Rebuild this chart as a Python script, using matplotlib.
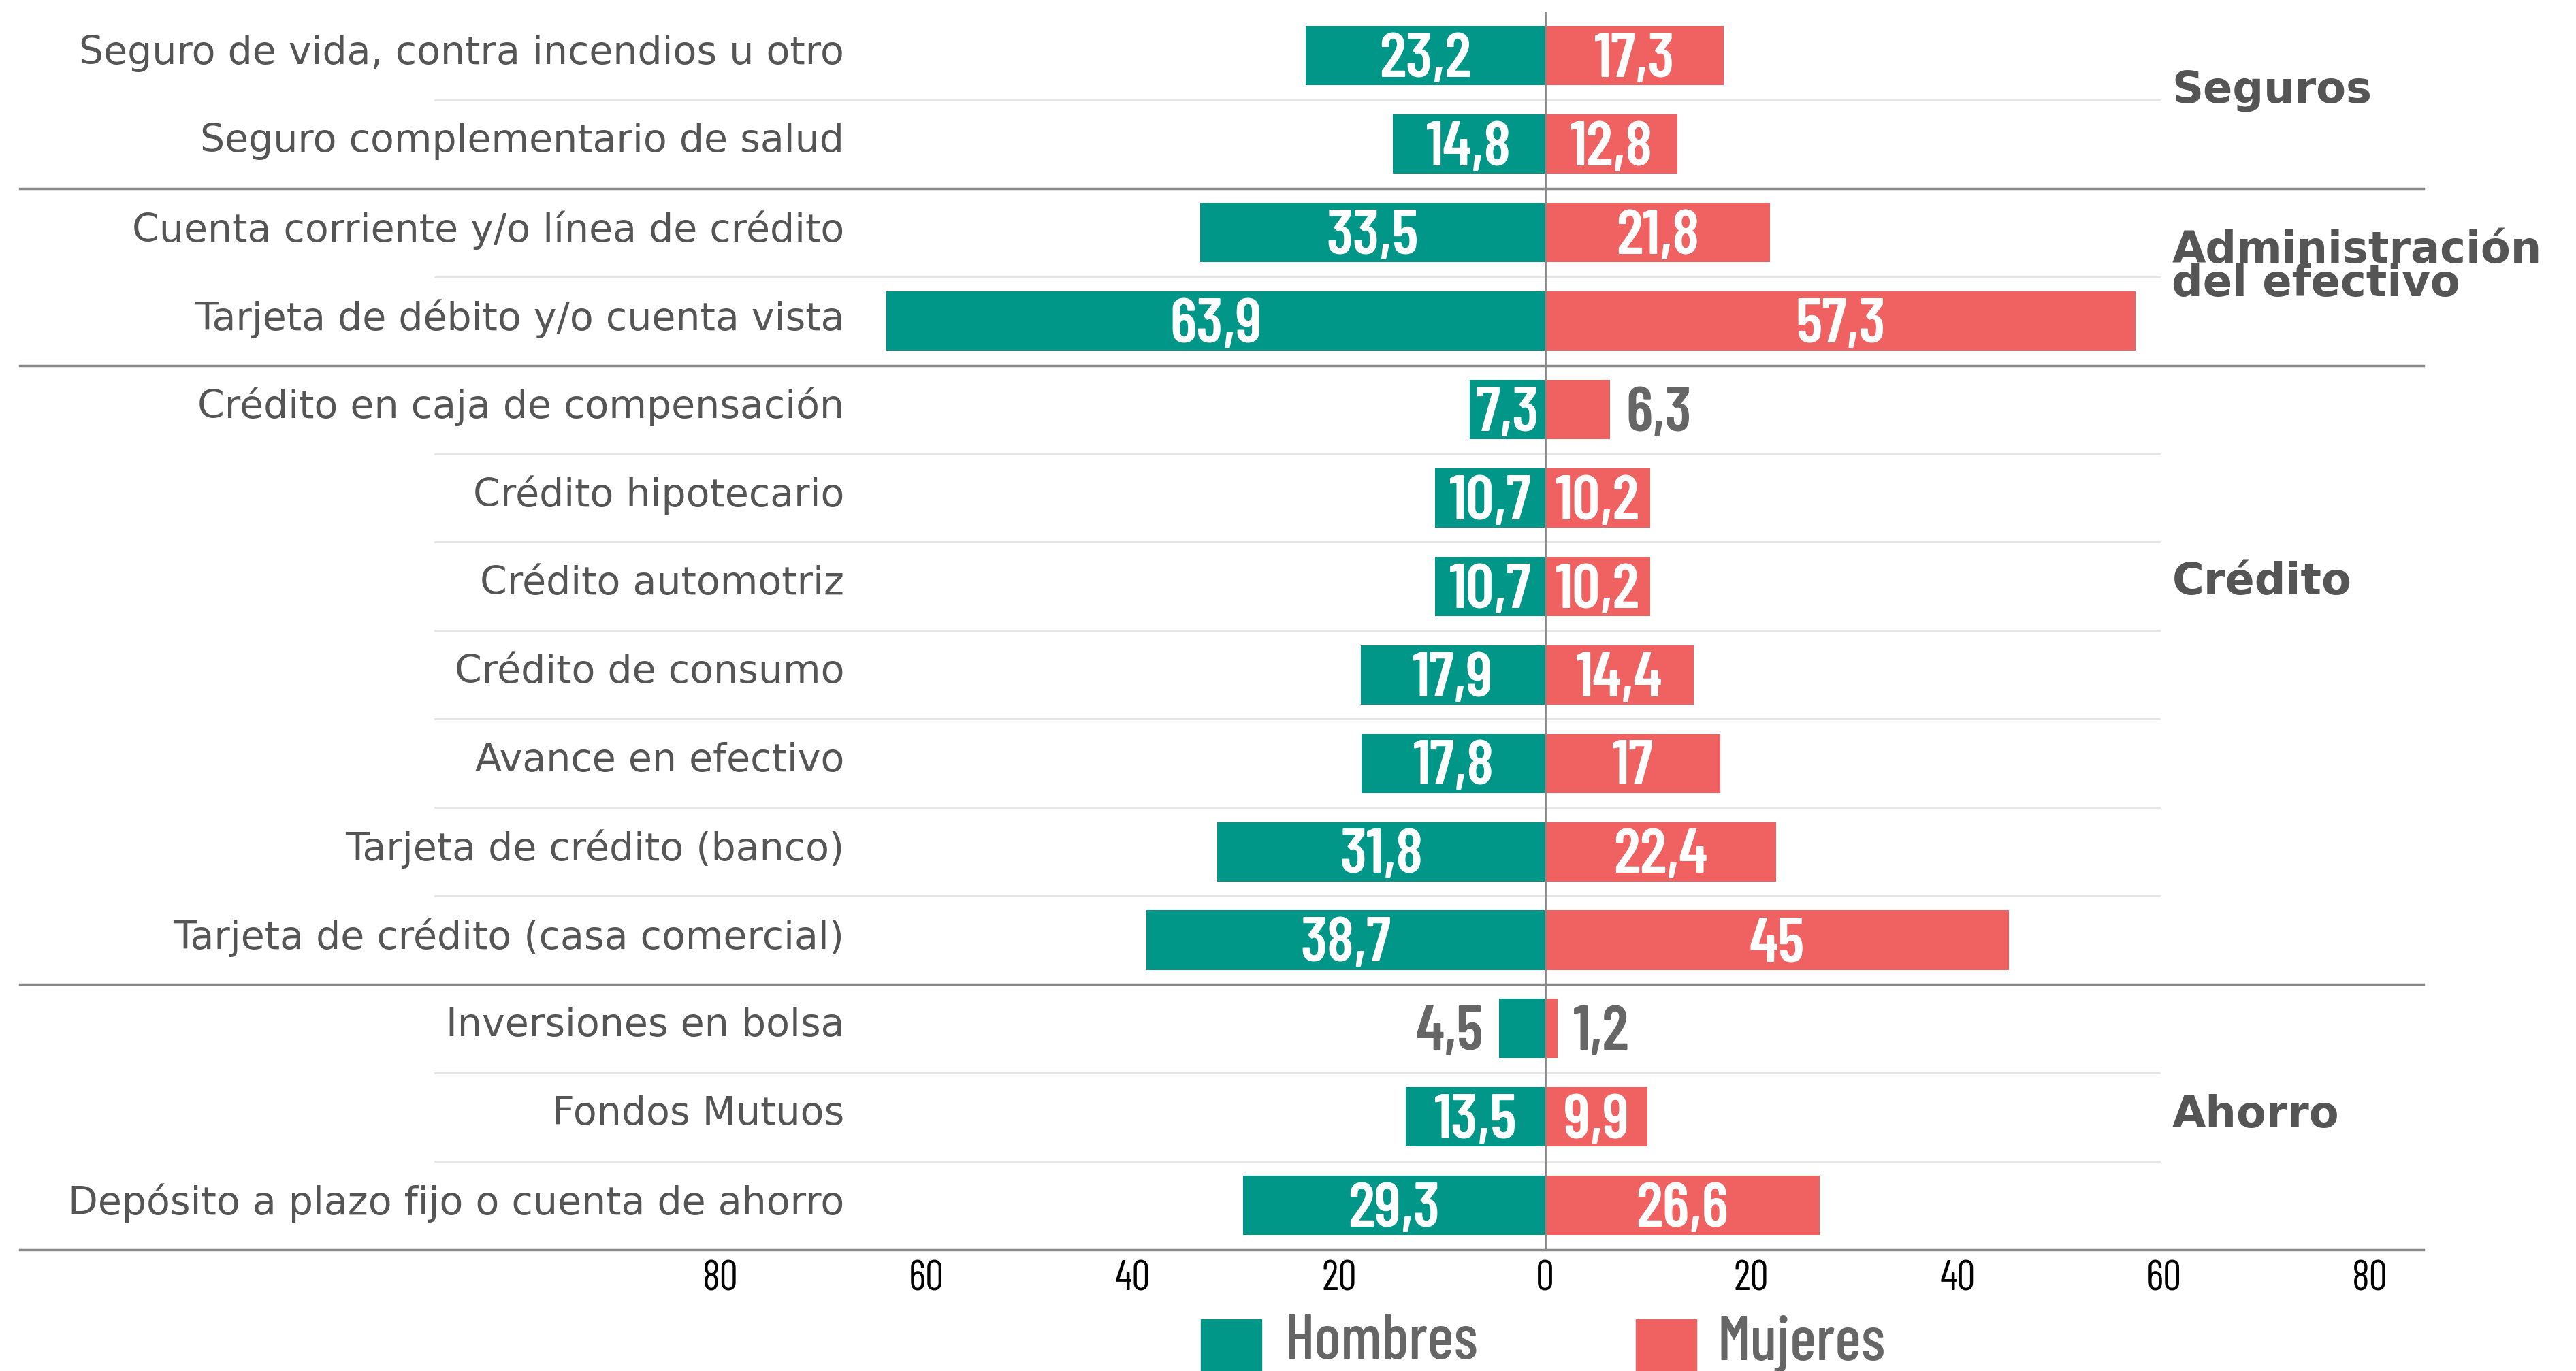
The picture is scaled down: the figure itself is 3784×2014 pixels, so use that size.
import matplotlib
matplotlib.use("Agg")
import matplotlib.pyplot as plt
from matplotlib import font_manager
from matplotlib.patches import Rectangle

# data
categorias = ["Seguro de vida, contra incendios u otro",
              "Seguro complementario de salud",
              "Cuenta corriente y/o línea de crédito",
              "Tarjeta de débito y/o cuenta vista",
              "Crédito en caja de compensación",
              "Crédito hipotecario",
              "Crédito automotriz",
              "Crédito de consumo",
              "Avance en efectivo",
              "Tarjeta de crédito (banco)",
              "Tarjeta de crédito (casa comercial)",
              "Inversiones en bolsa",
              "Fondos Mutuos",
              "Depósito a plazo fijo o cuenta de ahorro"]
hombres = [23.2, 14.8, 33.5, 63.9, 7.3, 10.7, 10.7, 17.9, 17.8, 31.8, 38.7, 4.5, 13.5, 29.3]
mujeres = [17.3, 12.8, 21.8, 57.3, 6.3, 10.2, 10.2, 14.4, 17.0, 22.4, 45.0, 1.2, 9.9, 26.6]
grupos = ["Seguros", "Administración\ndel efectivo", "Crédito", "Ahorro"]
grupo_filas = [(0, 1), (2, 3), (4, 10), (11, 13)]
ticks = [-80, -60, -40, -20, 0, 20, 40, 60, 80]

TEAL = "#009688"
ROJO = "#f06262"
GRIS = "#555555"

# condensed font for the numbers (DIN Condensed look-alike)
nombres = {f.name for f in font_manager.fontManager.ttflist}
COND = "DejaVu Sans"
for cand in ["Barlow Condensed", "Roboto Condensed", "Oswald", "Sofia Sans Condensed",
             "Sofia Sans Extra Condensed", "Liberation Sans Narrow"]:
    if cand in nombres:
        COND = cand
        break


def fmt(v):
    s = ("%.1f" % v).replace(".", ",")
    return s[:-2] if s.endswith(",0") else s


fig = plt.figure(figsize=(37.84, 20.14), dpi=100)
ax = fig.add_axes([0, 0, 1, 1])
ax.set_xlim(-149.9, 100.0)
ax.set_ylim(14.873, -0.631)
ax.axis("off")

y = list(range(len(categorias)))
bh = ax.barh(y, [-h for h in hombres], height=0.67, color=TEAL)
bm = ax.barh(y, mujeres, height=0.67, color=ROJO)

# lines between rows / groups
for a, b in grupo_filas:
    for k in range(a, b):
        ax.plot([-107.7, 59.6], [k + 0.5, k + 0.5], color="#e4e4e4", lw=2, zorder=0)
    ax.plot([-148.0, 85.2], [b + 0.5, b + 0.5], color="#888888", lw=2.5, zorder=1)
ax.plot([0, 0], [-0.49, 13.5], color="#888888", lw=2, zorder=3)

# category labels
for i, c in enumerate(categorias):
    ax.text(-68.0, i - 0.03, c, ha="right", va="center", fontsize=41, color=GRIS,
            family="DejaVu Sans")

# value labels
for i in y:
    for v, bar, side in ((hombres[i], bh[i], -1), (mujeres[i], bm[i], 1)):
        if v < 7:
            t = ax.text(side * (v + 1.5), i + 0.06, fmt(v), ha="left" if side > 0 else "right",
                        va="center", fontsize=66, fontweight="semibold", color="#666666",
                        family=COND)
        else:
            t = ax.text(side * v / 2, i + 0.06, fmt(v), ha="center", va="center",
                        fontsize=66, fontweight="semibold", color="white", family=COND)
            t.set_clip_path(bar)

# group labels
gy = [0.39, 2.39, 5.95, 11.98]
for g, yy in zip(grupos, gy):
    ax.text(60.8, yy, g, ha="left", va="center", fontsize=46, fontweight="bold",
            color=GRIS, family="DejaVu Sans", linespacing=0.75)

# x tick labels
for t in ticks:
    ax.text(t, 13.84, str(abs(t)), ha="center", va="center", fontsize=44,
            color="black", family=COND)

# legend
for x0, xt, col, lab in ((0.4662, 0.4987, TEAL, "Hombres"), (0.6350, 0.6665, ROJO, "Mujeres")):
    fig.patches.append(Rectangle((x0, 0), 0.0235, 0.0377, transform=fig.transFigure,
                                 color=col, figure=fig))
    fig.text(xt, 0.041, lab, ha="left", va="top", fontsize=66, color="#666666",
             family=COND, fontweight="medium")

fig.savefig("out.png", dpi=100)
